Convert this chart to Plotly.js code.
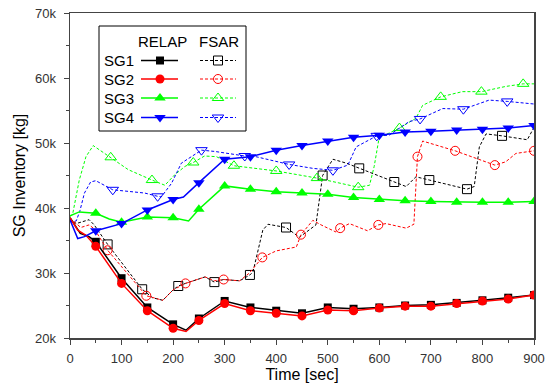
<!DOCTYPE html>
<html><head><meta charset="utf-8">
<script src="https://cdn.plot.ly/plotly-3.0.1.min.js"></script>
<style>html,body{margin:0;padding:0;background:#fff}#chart{width:553px;height:387px}</style>
</head><body><div id="chart"></div>
<script>
// ---------- data (time in sec, inventory in kg) ----------
const seriesNames = ['SG1', 'SG2', 'SG3', 'SG4'];
const columnNames = ['RELAP', 'FSAR'];

const relapMarks = [50,100,150,200,250,300,350,400,450,500,550,600,650,700,750,800,850,900];

const relapSG1_t = [0,5,20,37,50,100,150,200,225,250,300,350,400,450,500,550,600,650,700,750,800,850,900];
const relapSG1_v = [38500,37900,36100,35600,34800,29200,24700,22100,21200,23000,25700,24700,24200,23800,24700,24500,24700,25000,25100,25400,25800,26200,26600];

const relapSG2_t = [0,15,31,50,100,150,200,225,250,300,350,400,450,500,550,600,650,700,750,800,850,900];
const relapSG2_v = [38500,36600,35800,34100,28400,24200,21500,21000,22700,25300,24200,23800,23400,24300,24200,24600,24900,24900,25300,25700,26000,26600];

const relapSG3_t = [0,18,50,76,100,150,200,230,250,300,350,400,450,500,550,600,650,700,750,800,850,900];
const relapSG3_v = [38800,39400,39200,38300,37800,38600,38500,38000,39800,43400,42900,42500,42300,42100,41600,41300,41100,41000,40900,40900,40900,41000];

const relapSG4_t = [0,15,28,50,100,150,200,220,250,300,350,400,450,500,550,600,650,700,750,800,850,900];
const relapSG4_v = [38200,35300,35600,36500,37600,39700,41300,41700,43900,47500,47900,48900,49600,50300,50900,51200,51700,51800,52000,52100,52300,52700];

const fsarSG1_t = [0,12,37,47,73,140,160,180,200,210,224,262,280,298,329,349,355,374,384,419,445,465,477,490,510,536,561,629,652,671,697,770,784,794,807,838,887,900];
const fsarSG1_v = [38400,37600,38200,37400,34400,27500,26200,25800,27400,28000,28400,29400,28600,29000,28800,29700,30200,36600,37500,37000,35500,36600,37400,45000,47500,46900,46100,44000,43300,44800,44300,42900,43300,49400,51400,51100,50500,52400];
const fsarSG1_marks = [73,140,210,280,349,419,490,561,629,697,770,838];

const fsarSG2_t = [0,21,37,47,73,148,180,200,224,262,280,298,329,348,373,400,439,448,471,487,516,524,542,577,598,613,652,661,667,674,684,747,824,845,865,900];
const fsarSG2_v = [38400,37000,37400,36800,33500,26500,25800,27400,28400,29400,28800,29000,28800,30000,32400,33400,34000,35900,38100,37400,36300,36900,37600,36500,37400,37600,36900,37200,37500,47900,50300,48800,46600,47100,48400,48800];
const fsarSG2_marks = [73,148,224,298,373,448,524,598,674,747,824,900];

const fsarSG3_t = [0,5,18,31,45,79,113,159,184,203,223,239,261,284,318,400,479,559,581,590,600,613,639,671,684,719,761,798,845,879,900];
const fsarSG3_v = [38700,39000,44300,47900,49600,47800,45900,44300,43500,45100,46400,47000,48000,47900,46500,45700,44600,43200,43500,46400,51000,51300,52300,53800,55800,57100,57900,57900,58700,59100,59100];
const fsarSG3_marks = [79,159,239,318,400,479,559,639,719,798,879];

const fsarSG4_t = [0,12,19,28,40,50,83,119,145,170,177,197,216,255,281,339,355,425,471,510,539,555,595,619,658,679,723,763,813,848,900];
const fsarSG4_v = [37900,38000,39500,42300,44000,44200,42800,42500,42300,41800,41700,43800,46900,48900,48700,48000,48000,46700,46100,45800,46600,49400,51100,51200,53300,53700,55300,55200,56600,56400,56000];
const fsarSG4_marks = [83,170,255,339,425,510,595,679,763,848];

const xTickValues = [0,100,200,300,400,500,600,700,800,900];
const yTickValues = [20000,30000,40000,50000,60000,70000];
const yTickLabels = ['20k','30k','40k','50k','60k','70k'];

// ---------- styling ----------
const colors = ['#000000', '#ff0000', '#00ff00', '#0000ff'];
const relapSymbols = ['square', 'circle', 'triangle-up', 'triangle-down'];
const fsarSymbols = ['square-open', 'circle-open', 'triangle-up-open', 'triangle-down-open'];
const relapSizes = [8, 9, 10, 10];
const fsarSizes = [9, 9, 10, 10];
const FONT = 'Arial, "Liberation Sans", sans-serif';

const relapData = [[relapSG1_t, relapSG1_v], [relapSG2_t, relapSG2_v], [relapSG3_t, relapSG3_v], [relapSG4_t, relapSG4_v]];
const fsarData = [[fsarSG1_t, fsarSG1_v, fsarSG1_marks], [fsarSG2_t, fsarSG2_v, fsarSG2_marks], [fsarSG3_t, fsarSG3_v, fsarSG3_marks], [fsarSG4_t, fsarSG4_v, fsarSG4_marks]];

function pick(t, v, marks) {
  const mt = [], mv = [];
  t.forEach((x, i) => { if (marks.includes(x)) { mt.push(x); mv.push(v[i]); } });
  return [mt, mv];
}

const traces = [];
// FSAR (dashed, open markers)
fsarData.forEach((d, i) => {
  traces.push({x: d[0], y: d[1], mode: 'lines', name: seriesNames[i] + ' ' + columnNames[1], showlegend: false,
    line: {color: colors[i], width: 1, dash: '3px,2px'}, hoverinfo: 'skip'});
  const [mt, mv] = pick(d[0], d[1], d[2]);
  traces.push({x: mt, y: mv, mode: 'markers', showlegend: false,
    marker: {symbol: fsarSymbols[i], size: fsarSizes[i], color: colors[i], line: {color: colors[i], width: 1}}});
});
// RELAP (solid, filled markers)
relapData.forEach((d, i) => {
  traces.push({x: d[0], y: d[1], mode: 'lines', name: seriesNames[i] + ' ' + columnNames[0], showlegend: false,
    line: {color: colors[i], width: 1.5}, hoverinfo: 'skip'});
  const [mt, mv] = pick(d[0], d[1], relapMarks);
  traces.push({x: mt, y: mv, mode: 'markers', showlegend: false,
    marker: {symbol: relapSymbols[i], size: relapSizes[i], color: colors[i], line: {width: 0}}});
});

// ---------- custom two-column legend (pixel-based overlay axes) ----------
const legRows = [60.5, 79, 98, 117.5];
const annotations = [];
annotations.push({xref: 'x2', yref: 'y2', x: 162, y: 41.5, text: columnNames[0], showarrow: false, font: {family: FONT, size: 15, color: '#000'}});
annotations.push({xref: 'x2', yref: 'y2', x: 219, y: 41.5, text: columnNames[1], showarrow: false, font: {family: FONT, size: 15, color: '#000'}});
seriesNames.forEach((s, i) => {
  annotations.push({xref: 'x2', yref: 'y2', x: 136, y: legRows[i], xanchor: 'right', text: s, showarrow: false, font: {family: FONT, size: 15, color: '#000'}});
  traces.push({x: [141, 178], y: [legRows[i], legRows[i]], xaxis: 'x2', yaxis: 'y2', mode: 'lines', showlegend: false, hoverinfo: 'skip',
    line: {color: colors[i], width: 1.5}});
  traces.push({x: [160], y: [legRows[i]], xaxis: 'x2', yaxis: 'y2', mode: 'markers', showlegend: false, hoverinfo: 'skip',
    marker: {symbol: relapSymbols[i], size: relapSizes[i], color: colors[i]}});
  traces.push({x: [200, 236], y: [legRows[i], legRows[i]], xaxis: 'x2', yaxis: 'y2', mode: 'lines', showlegend: false, hoverinfo: 'skip',
    line: {color: colors[i], width: 1, dash: '3px,2px'}});
  traces.push({x: [218], y: [legRows[i]], xaxis: 'x2', yaxis: 'y2', mode: 'markers', showlegend: false, hoverinfo: 'skip',
    marker: {symbol: fsarSymbols[i], size: fsarSizes[i], color: colors[i], line: {color: colors[i], width: 1}}});
});

const axisCommon = {
  showline: true, linecolor: '#444', linewidth: 1.5, mirror: true,
  ticks: 'outside', ticklen: 5, tickwidth: 1, tickcolor: '#444',
  showgrid: false, zeroline: false,
  tickfont: {family: FONT, size: 13, color: '#333'}
};

const layout = {
  width: 553, height: 387,
  margin: {l: 70, r: 19, t: 13, b: 49, pad: 0},
  paper_bgcolor: '#fff', plot_bgcolor: '#fff',
  showlegend: false,
  font: {family: FONT, color: '#000'},
  xaxis: Object.assign({}, axisCommon, {
    range: [0, 900], tickvals: xTickValues, ticklabelstandoff: 3,
    minor: {dtick: 50, ticks: 'outside', ticklen: 3, tickcolor: '#444', showgrid: false},
    title: {text: 'Time [sec]', font: {family: FONT, size: 16, color: '#000'}, standoff: 0}
  }),
  yaxis: Object.assign({}, axisCommon, {
    range: [20000, 70000], tickvals: yTickValues, ticktext: yTickLabels, ticklabelstandoff: 5,
    minor: {dtick: 5000, ticks: 'outside', ticklen: 3, tickcolor: '#444', showgrid: false},
    title: {text: 'SG Inventory [kg]', font: {family: FONT, size: 16, color: '#000'}, standoff: 5}
  }),
  xaxis2: {overlaying: 'x', range: [70, 534], visible: false, fixedrange: true},
  yaxis2: {overlaying: 'y', range: [338, 13], visible: false, fixedrange: true},
  shapes: [{type: 'rect', xref: 'x2', yref: 'y2', x0: 99, x1: 246, y0: 26, y1: 131,
    line: {color: '#000', width: 1}, fillcolor: '#fff', layer: 'below'}],
  annotations: annotations
};

Plotly.newPlot('chart', traces, layout, {staticPlot: true, displayModeBar: false});
</script></body></html>
